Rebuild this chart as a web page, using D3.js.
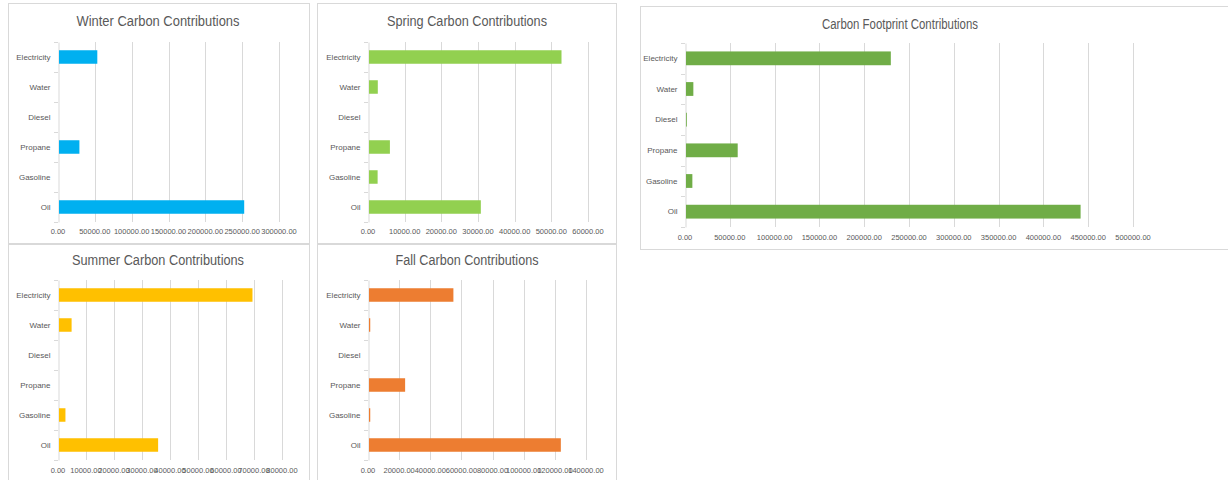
<!DOCTYPE html>
<html>
<head>
<meta charset="utf-8">
<script src="https://cdn.jsdelivr.net/npm/d3@7"></script>
<style>
  html, body { margin: 0; padding: 0; background: #ffffff; }
  svg { display: block; }
</style>
</head>
<body>
<svg id="chart" width="1228" height="480"></svg>
<script>
// ---- Data ----
const categories = ["Electricity", "Water", "Diesel", "Propane", "Gasoline", "Oil"];
const winterValues = [52000, 0, 0, 27700, 0, 251400];
const springValues = [52500, 2400, 0, 5700, 2350, 30500];
const summerValues = [69100, 4500, 0, 0, 2300, 35400];
const fallValues   = [54200, 800, 0, 23200, 800, 123200];
const totalValues  = [228600, 8200, 900, 57700, 7100, 440400];

const winterTicks = [0, 50000, 100000, 150000, 200000, 250000, 300000];
const springTicks = [0, 10000, 20000, 30000, 40000, 50000, 60000];
const summerTicks = [0, 10000, 20000, 30000, 40000, 50000, 60000, 70000, 80000];
const fallTicks   = [0, 20000, 40000, 60000, 80000, 100000, 120000, 140000];
const totalTicks  = [0, 50000, 100000, 150000, 200000, 250000, 300000, 350000, 400000, 450000, 500000];

const titles = ["Winter Carbon Contributions", "Spring Carbon Contributions",
                "Summer Carbon Contributions", "Fall Carbon Contributions",
                "Carbon Footprint Contributions"];

// ---- Layout ----
const svg = d3.select("#chart");
const FONT = "'Liberation Sans', Arial, sans-serif";
const TEXT = "#595959";
const GRID = "#d9d9d9";

const panels = [
  { title: titles[0], values: winterValues, ticks: winterTicks, color: "#00b0f0",
    box: [8, 3, 301, 240], x0: 58, x1: 279, y0: 42, y1: 222, tickY: 231, titleX: 158, titleY: 21, titleW: 163 },
  { title: titles[1], values: springValues, ticks: springTicks, color: "#92d050",
    box: [317, 3, 299, 240], x0: 368, x1: 588, y0: 42, y1: 222, tickY: 231, titleX: 467, titleY: 21, titleW: 160 },
  { title: titles[2], values: summerValues, ticks: summerTicks, color: "#ffc000",
    box: [8, 244, 301, 240], x0: 58, x1: 282, y0: 280, y1: 460, tickY: 470, titleX: 158, titleY: 260, titleW: 172 },
  { title: titles[3], values: fallValues, ticks: fallTicks, color: "#ed7d31",
    box: [317, 244, 299, 240], x0: 368, x1: 586, y0: 280, y1: 460, tickY: 470, titleX: 467, titleY: 260, titleW: 143 },
  { title: titles[4], values: totalValues, ticks: totalTicks, color: "#70ad47",
    box: [640, 6, 590, 243], x0: 685, x1: 1133, y0: 43, y1: 227, tickY: 237, titleX: 900, titleY: 24, titleW: 156 }
];

const fmt = d3.format(".2f");

panels.forEach(p => {
  const g = svg.append("g");
  g.append("rect")
    .attr("x", p.box[0] + 0.5).attr("y", p.box[1] + 0.5)
    .attr("width", p.box[2]).attr("height", p.box[3])
    .attr("fill", "#fff").attr("stroke", GRID).attr("stroke-width", 1);

  const x = d3.scaleLinear().domain([0, d3.max(p.ticks)]).range([p.x0, p.x1]);
  const y = d3.scaleBand().domain(categories).range([p.y0, p.y1]).paddingInner(0.55).paddingOuter(0.275);

  // gridlines
  g.selectAll("line.grid").data(p.ticks.slice(1)).enter().append("line")
    .attr("x1", d => Math.round(x(d)) + 0.5).attr("x2", d => Math.round(x(d)) + 0.5)
    .attr("y1", p.y0).attr("y2", p.y1)
    .attr("stroke", GRID).attr("stroke-width", 1);

  // x tick labels
  g.selectAll("text.xt").data(p.ticks).enter().append("text")
    .attr("x", d => x(d)).attr("y", p.tickY)
    .attr("dy", "0.35em").attr("text-anchor", "middle")
    .attr("font-family", FONT).attr("font-size", 7.5).attr("fill", TEXT)
    .text(d => fmt(d));

  // category axis
  const yAxis = d3.axisLeft(y).tickSize(0).tickPadding(8);
  const ag = g.append("g").attr("transform", `translate(${Math.round(p.x0) + 0.5},0)`).call(yAxis);
  ag.select(".domain").attr("stroke", GRID);
  ag.selectAll("text").attr("font-family", FONT).attr("font-size", 8).attr("fill", TEXT);
  // boundary tick marks
  const step = (p.y1 - p.y0) / categories.length;
  g.selectAll("line.bt").data(d3.range(categories.length + 1)).enter().append("line")
    .attr("x1", Math.round(p.x0) - 4).attr("x2", Math.round(p.x0))
    .attr("y1", i => Math.round(p.y0 + i * step) + 0.5).attr("y2", i => Math.round(p.y0 + i * step) + 0.5)
    .attr("stroke", GRID).attr("stroke-width", 1);

  // bars
  g.selectAll("rect.bar").data(categories).enter().append("rect")
    .attr("x", x(0) + 1)
    .attr("y", c => y(c))
    .attr("height", y.bandwidth())
    .attr("width", (c, i) => Math.max(0, x(p.values[i]) - x(0)))
    .attr("fill", p.color);

  // title
  g.append("text")
    .attr("x", p.titleX).attr("y", p.titleY).attr("dy", "0.35em")
    .attr("text-anchor", "middle")
    .attr("font-family", FONT).attr("font-size", 14).attr("fill", TEXT)
    .attr("textLength", p.titleW).attr("lengthAdjust", "spacingAndGlyphs")
    .text(p.title);
});
</script>
</body>
</html>
